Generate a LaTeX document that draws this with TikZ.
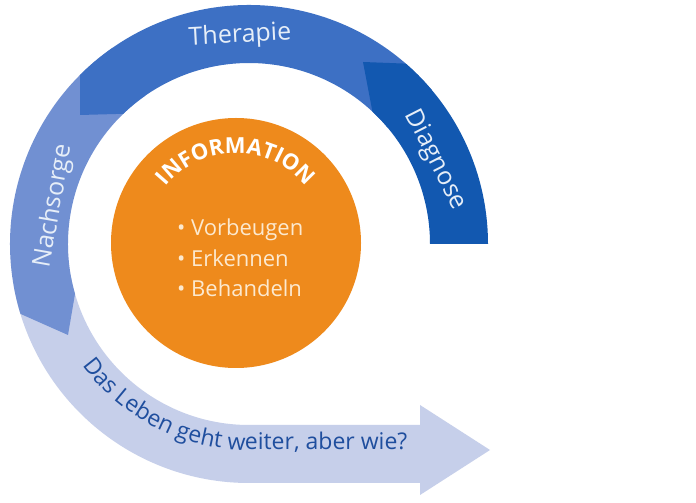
\documentclass[tikz,border=0pt]{standalone}
\usepackage{fontspec}
\setmainfont{Open Sans}
\usetikzlibrary{decorations.text}
\definecolor{cdiag}{HTML}{1258B0}
\definecolor{cther}{HTML}{3D70C4}
\definecolor{cnach}{HTML}{7190D2}
\definecolor{clight}{HTML}{C6CFEA}
\definecolor{corange}{HTML}{EE8A1C}
\definecolor{cream}{HTML}{FCE9CF}
\definecolor{ringtxt}{HTML}{E6EEF8}
\definecolor{darktxt}{HTML}{1F4E9E}
\begin{document}
\begin{tikzpicture}[x=1pt,y=1pt,
  ringlabel/.style={text=ringtxt,font=\fontsize{25}{29}\selectfont,inner sep=0pt},
  bullet/.style={text=cream,font=\fontsize{22}{26}\selectfont,anchor=base west,inner sep=0pt}]
\useasboundingbox[fill=white] (0,0) rectangle (696,503);
\begin{scope}[shift={(249,259)}]
% light arrow
\fill[clight] (190:239) arc[start angle=190,end angle=270,radius=239] -- (171,-239) -- (171,-251) -- (241,-206) -- (171,-161) -- (171,-181) -- (0,-181) arc[start angle=270,end angle=190,radius=181] -- cycle;
% Nachsorge
\fill[cnach] (125:239) arc[start angle=125,end angle=197,radius=239] -- (-181,-91) -- (196:181) arc[start angle=196,end angle=125,radius=181] -- cycle;
% Therapie
\fill[cther] (40:239) arc[start angle=40,end angle=135,radius=239] -- (-169,129) -- (134:181) arc[start angle=134,end angle=40,radius=181] -- cycle;
% Diagnose
\fill[cdiag] (0:239) arc[start angle=0,end angle=49,radius=239] -- (114,182) -- (47:181) arc[start angle=47,end angle=0,radius=181] -- cycle;
% centre
\node[circle,fill=corange,minimum size=250pt,inner sep=0pt] (info) at (-13,1) {};
\path[decorate,decoration={text along path,text align=center,
  text={|\color{white}\bfseries\fontsize{22}{26}\selectfont|INFORMATION}}]
  (-13,1) ++(165:90) arc[start angle=165,end angle=15,radius=90];
\node[bullet] (v) at (-72,8) {• Vorbeugen};
\node[bullet] (e) at (-72,-23) {• Erkennen};
\node[bullet] (b) at (-72,-53) {• Behandeln};
% ring labels
\node[ringlabel,rotate=3] (ther) at (-9,208) {Therapie};
\node[ringlabel,rotate=-63] (diag) at (186,84) {Diagnose};
\node[ringlabel,rotate=80] (nach) at (-195,38) {Nachsorge};
\path[decorate,decoration={text along path,text align=left,
  text={|\color{darktxt}\fontsize{23}{27}\selectfont|Das Leben geht weiter, aber wie?}}]
  (216:206) arc[start angle=216,end angle=270,radius=206] -- (200,-206);
\end{scope}
\end{tikzpicture}
\end{document}
